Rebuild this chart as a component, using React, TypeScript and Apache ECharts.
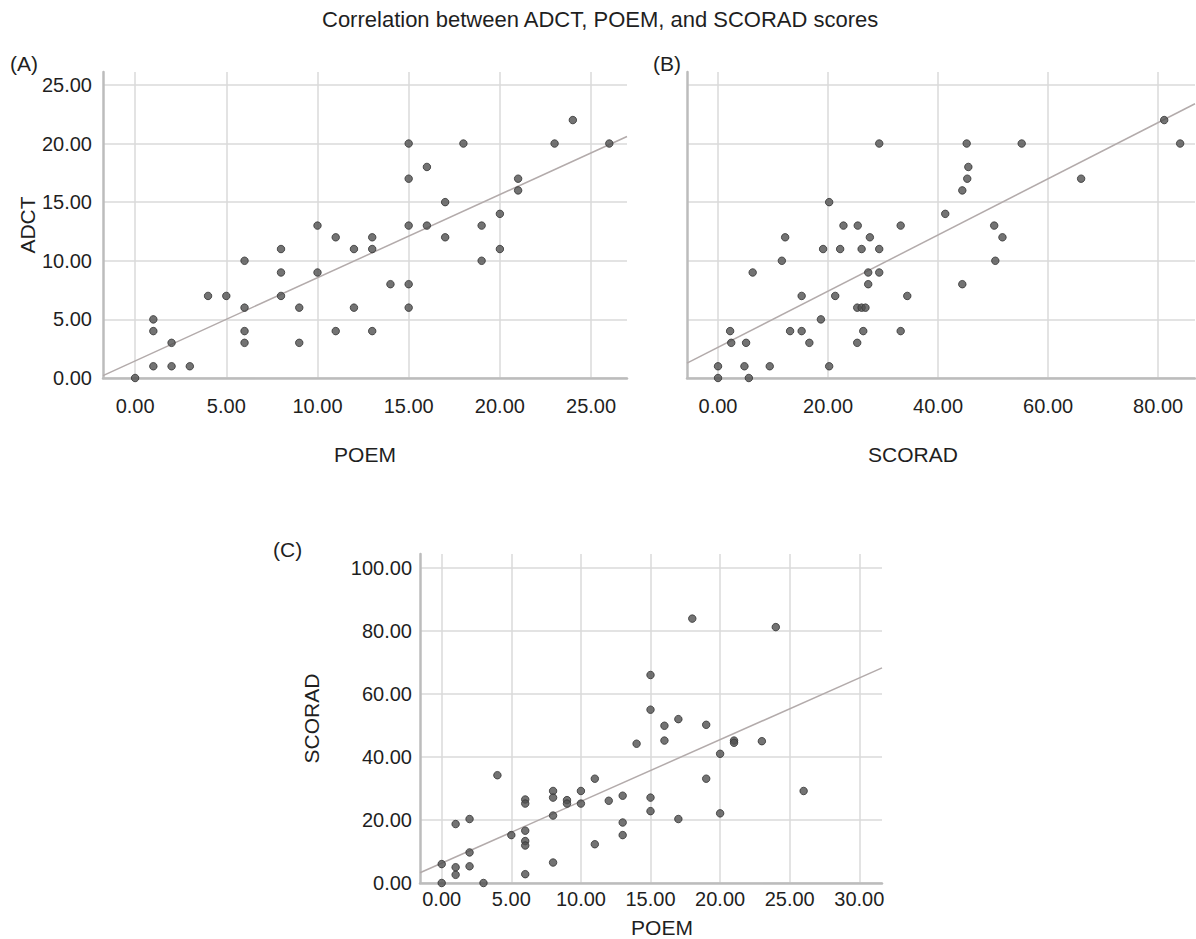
import React, { useEffect, useRef } from "react";
import * as echarts from "echarts";

const TITLE = "Correlation between ADCT, POEM, and SCORAD scores";
const PANEL_LABELS = ["(A)", "(B)", "(C)"];
const NAME_POEM = "POEM";
const NAME_ADCT = "ADCT";
const NAME_SCORAD = "SCORAD";

// Panel A: POEM (x) vs ADCT (y)
const A_POEM = [0, 1, 1, 1, 2, 2, 3, 4, 5, 6, 6, 6, 6, 8, 8, 8, 9, 9, 10, 10, 11, 11, 12, 12, 13, 13, 13, 14, 15, 15, 15, 15, 15, 16, 16, 17, 17, 18, 19, 19, 20, 20, 21, 21, 23, 24, 26];
const A_ADCT = [0, 5, 4, 1, 3, 1, 1, 7, 7, 10, 6, 4, 3, 11, 9, 7, 6, 3, 13, 9, 12, 4, 11, 6, 12, 11, 4, 8, 20, 17, 13, 8, 6, 18, 13, 15, 12, 20, 13, 10, 14, 11, 17, 16, 20, 22, 20];

// Panel B: SCORAD (x) vs ADCT (y)
const B_SCORAD = [29.3, 45.2, 45.5, 45.3, 44.4, 20.2, 41.3, 22.8, 25.4, 33.2, 50.2, 12.2, 27.6, 19.1, 22.2, 26.1, 29.3, 11.6, 50.4, 6.3, 27.3, 29.3, 27.3, 44.4, 15.2, 21.3, 34.4, 25.3, 26.1, 26.8, 18.7, 2.2, 13.1, 15.2, 26.4, 33.2, 2.4, 5.1, 16.6, 25.3, 0, 4.8, 9.4, 20.2, 0, 5.6, 55.2, 66.0, 51.7, 81.1, 84.0];
const B_ADCT = [20, 20, 18, 17, 16, 15, 14, 13, 13, 13, 13, 12, 12, 11, 11, 11, 11, 10, 10, 9, 9, 9, 8, 8, 7, 7, 7, 6, 6, 6, 5, 4, 4, 4, 4, 4, 3, 3, 3, 3, 1, 1, 1, 1, 0, 0, 20, 17, 12, 22, 20];

// Panel C: POEM (x) vs SCORAD (y)
const C_POEM = [0, 0, 1, 1, 1, 2, 2, 2, 3, 4, 5, 6, 6, 6, 6, 6, 6, 8, 8, 8, 8, 9, 9, 10, 10, 11, 11, 12, 13, 13, 13, 14, 15, 15, 15, 15, 16, 16, 17, 17, 18, 19, 19, 20, 20, 21, 21, 23, 24, 26];
const C_SCORAD = [0, 6, 2.6, 5, 18.7, 20.3, 9.7, 5.3, 0, 34.2, 15.2, 26.5, 25.2, 16.6, 13.3, 11.9, 2.8, 29.2, 27.1, 21.4, 6.5, 26.3, 25.2, 29.2, 25.2, 33.1, 12.3, 26.1, 27.7, 19.2, 15.2, 44.2, 66, 55, 27.1, 22.8, 49.9, 45.2, 52, 20.3, 83.9, 50.2, 33.1, 41, 22.1, 45.2, 44.5, 45, 81.2, 29.2];

// Tick values
const TICKS_POEM_A = [0, 5, 10, 15, 20, 25];
const TICKS_POEM_C = [0, 5, 10, 15, 20, 25, 30];
const TICKS_ADCT = [0, 5, 10, 15, 20, 25];
const TICKS_SCORAD_X = [0, 20, 40, 60, 80];
const TICKS_SCORAD_Y = [0, 20, 40, 60, 80, 100];

const FONT = "'Liberation Sans', Arial, Helvetica, sans-serif";
const TEXT_COLOR = "#1f1f1f";
const GRID_COLOR = "#dadada";
const AXIS_COLOR = "#bcbcbc";
const POINT_COLOR = "#505050";
const FIT_COLOR = "#b3abab";

function zip(xs: number[], ys: number[]) {
  return xs.map((x, i) => [x, ys[i]]);
}

function fitLine(xs: number[], ys: number[], x0: number, x1: number) {
  const n = xs.length;
  const mx = xs.reduce((a, b) => a + b, 0) / n;
  const my = ys.reduce((a, b) => a + b, 0) / n;
  let sxy = 0;
  let sxx = 0;
  for (let i = 0; i < n; i++) {
    sxy += (xs[i] - mx) * (ys[i] - my);
    sxx += (xs[i] - mx) * (xs[i] - mx);
  }
  const b = sxy / sxx;
  const a = my - b * mx;
  return [
    [x0, a + b * x0],
    [x1, a + b * x1],
  ];
}

function axis(o: any) {
  return {
    type: "value",
    gridIndex: o.grid,
    min: o.min,
    max: o.max,
    name: o.name || "",
    nameLocation: "middle",
    nameGap: o.nameGap || 0,
    nameTextStyle: {
      fontSize: 21,
      fontFamily: FONT,
      color: TEXT_COLOR,
      padding: o.namePadding || 0,
    },
    axisLine: { show: true, onZero: false, lineStyle: { color: AXIS_COLOR, width: 2.5 } },
    axisTick: { show: false, customValues: o.ticks },
    axisLabel: {
      show: o.labels !== false,
      customValues: o.ticks,
      formatter: (v: number) => v.toFixed(2),
      fontSize: 20,
      fontFamily: FONT,
      color: TEXT_COLOR,
      margin: o.margin || 8,
    },
    splitLine: { show: true, lineStyle: { color: GRID_COLOR, width: 1.5 } },
  };
}

const X_A = [-1.76, 26.97];
const Y_A = [0, 26.1];
const X_B = [-5.64, 86.7];
const X_C = [-1.56, 31.63];
const Y_C = [0, 104.4];

export default function App() {
  const ref = useRef<HTMLDivElement>(null);

  useEffect(() => {
    document.body.style.margin = "0";
    if (!ref.current) return;
    const chart = echarts.init(ref.current, undefined, { renderer: "svg" });

    const scatterStyle = {
      color: POINT_COLOR,
      borderColor: "#333",
      borderWidth: 1,
    };
    const lineSeries = (xi: number, data: number[][]) => ({
      type: "line",
      xAxisIndex: xi,
      yAxisIndex: xi,
      data,
      symbol: "none",
      showSymbol: false,
      clip: true,
      silent: true,
      z: 1,
      lineStyle: { color: FIT_COLOR, width: 1.5 },
    });
    const scatter = (xi: number, data: number[][]) => ({
      type: "scatter",
      xAxisIndex: xi,
      yAxisIndex: xi,
      data,
      symbolSize: 7.5,
      itemStyle: scatterStyle,
      z: 2,
      silent: true,
    });

    const label = (text: string, x: number, y: number, size: number) => ({
      type: "text",
      x,
      y,
      style: { text, fontSize: size, fontFamily: FONT, fill: TEXT_COLOR, align: "left", verticalAlign: "middle" },
    });

    chart.setOption({
      animation: false,
      backgroundColor: "#ffffff",
      grid: [
        { left: 103, top: 72, width: 524, height: 306 },
        { left: 687, top: 72, width: 508, height: 306 },
        { left: 420, top: 554, width: 462, height: 330 },
      ],
      xAxis: [
        axis({ grid: 0, min: X_A[0], max: X_A[1], ticks: TICKS_POEM_A, name: NAME_POEM, nameGap: 66, margin: 18 }),
        axis({ grid: 1, min: X_B[0], max: X_B[1], ticks: TICKS_SCORAD_X, name: NAME_SCORAD, nameGap: 66, margin: 18, namePadding: [0, 56, 0, 0] }),
        axis({ grid: 2, min: X_C[0], max: X_C[1], ticks: TICKS_POEM_C, name: NAME_POEM, nameGap: 34, margin: 6, namePadding: [0, 0, 0, 22] }),
      ],
      yAxis: [
        axis({ grid: 0, min: Y_A[0], max: Y_A[1], ticks: TICKS_ADCT, name: NAME_ADCT, nameGap: 63, margin: 11 }),
        axis({ grid: 1, min: Y_A[0], max: Y_A[1], ticks: TICKS_ADCT, labels: false }),
        axis({ grid: 2, min: Y_C[0], max: Y_C[1], ticks: TICKS_SCORAD_Y, name: NAME_SCORAD, nameGap: 98, margin: 8 }),
      ],
      graphic: [
        label(TITLE, 322, 19, 22),
        label(PANEL_LABELS[0], 10, 63, 21),
        label(PANEL_LABELS[1], 653, 63, 21),
        label(PANEL_LABELS[2], 273, 549, 21),
      ],
      series: [
        lineSeries(0, fitLine(A_POEM, A_ADCT, X_A[0], X_A[1])),
        scatter(0, zip(A_POEM, A_ADCT)),
        lineSeries(1, fitLine(B_SCORAD, B_ADCT, X_B[0], X_B[1])),
        scatter(1, zip(B_SCORAD, B_ADCT)),
        lineSeries(2, fitLine(C_POEM, C_SCORAD, X_C[0], X_C[1])),
        scatter(2, zip(C_POEM, C_SCORAD)),
      ],
    });

    return () => chart.dispose();
  }, []);

  return <div ref={ref} style={{ width: 1196, height: 939 }} />;
}
